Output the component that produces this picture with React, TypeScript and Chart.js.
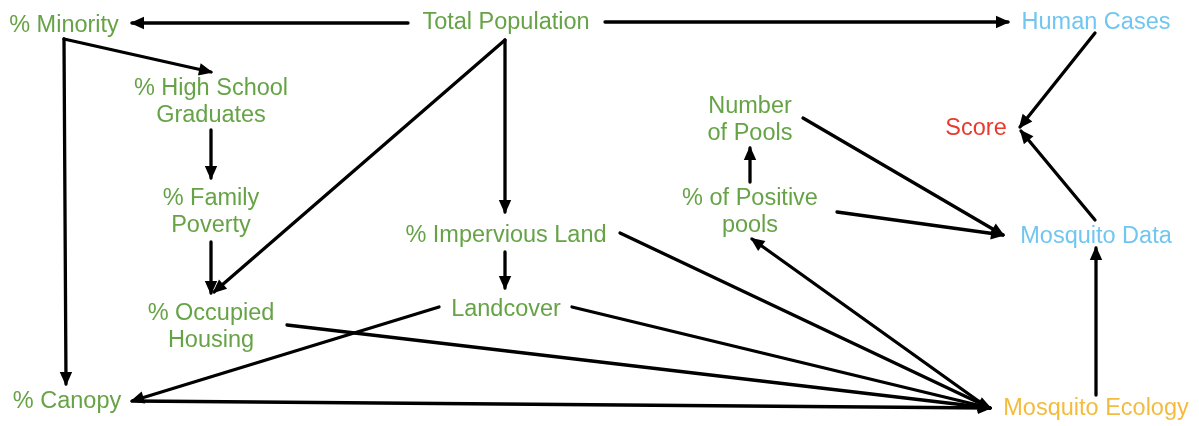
import React, { useEffect, useRef } from "react";
import { Chart, registerables } from "chart.js";

Chart.register(...registerables);

// ---- Nodes (label lines, centre x, first-line baseline y, group) ----
const nodeLabels: string[][] = [
  ["% Minority"],
  ["Total Population"],
  ["Human Cases"],
  ["% High School", "Graduates"],
  ["% Family", "Poverty"],
  ["% Occupied", "Housing"],
  ["% Canopy"],
  ["% Impervious Land"],
  ["Landcover"],
  ["Number", "of Pools"],
  ["% of Positive", "pools"],
  ["Score"],
  ["Mosquito Data"],
  ["Mosquito Ecology"],
];
const nodeX = [64, 506, 1096, 211, 211, 211, 67, 506, 506, 750, 750, 976, 1096, 1096];
const nodeY = [32, 29, 29, 95, 205, 320, 408, 242, 316, 113, 205, 135, 243, 415];
const nodeGroup = ["demo", "demo", "obs", "demo", "demo", "demo", "demo", "demo", "demo", "demo", "demo", "score", "obs", "eco"];

// ---- Edges (polyline points, last point is the arrow tip) ----
const edgeNames = [
  "Total Population → % Minority",
  "Total Population → Human Cases",
  "% Minority → % High School Graduates",
  "% Minority → % Canopy",
  "% High School Graduates → % Family Poverty",
  "% Family Poverty → % Occupied Housing",
  "Total Population → % Occupied Housing",
  "Total Population → % Impervious Land",
  "% Impervious Land → Landcover",
  "% Impervious Land → Mosquito Ecology",
  "Landcover → % Canopy",
  "Landcover → Mosquito Ecology",
  "% Occupied Housing → Mosquito Ecology",
  "% Canopy → Mosquito Ecology",
  "Mosquito Ecology → % of Positive pools",
  "% of Positive pools → Number of Pools",
  "Number of Pools → Mosquito Data",
  "% of Positive pools → Mosquito Data",
  "Mosquito Ecology → Mosquito Data",
  "Human Cases → Score",
  "Mosquito Data → Score",
];
const edgeXs: number[][] = [
  [408, 132],
  [605, 1008],
  [64, 211],
  [64, 66],
  [211, 211],
  [211, 211],
  [505, 214],
  [505, 505],
  [505, 505],
  [620, 990],
  [439, 132],
  [572, 990],
  [287, 990],
  [133, 990],
  [984, 752],
  [750, 750],
  [803, 1003],
  [837, 1003],
  [1096, 1096],
  [1095, 1020],
  [1095, 1021],
];
const edgeYs: number[][] = [
  [23, 23],
  [22, 22],
  [39, 72],
  [39, 384],
  [130, 178],
  [242, 293],
  [40, 292],
  [40, 212],
  [252, 288],
  [233, 408],
  [307, 401],
  [307, 408],
  [325, 408],
  [401, 408],
  [405, 239],
  [182, 148],
  [118, 235],
  [212, 235],
  [395, 248],
  [33, 127],
  [220, 131],
];

const groupColor: Record<string, string> = {
  demo: "#66a346",
  obs: "#70c6f0",
  score: "#ea3a2c",
  eco: "#f5bb3d",
};

const FONT = '23.5px "Liberation Sans", Arial, sans-serif';
const LINE_GAP = 26.5;

const arrowPlugin = {
  id: "arrowHeads",
  afterDatasetsDraw(chart: any) {
    const ctx = chart.ctx;
    ctx.save();
    chart.data.datasets.forEach((ds: any, i: number) => {
      if (ds.label === "nodes") return;
      const meta = chart.getDatasetMeta(i);
      const pts = meta.data;
      if (pts.length < 2) return;
      const p1 = pts[pts.length - 1];
      const p0 = pts[pts.length - 2];
      const ang = Math.atan2(p1.y - p0.y, p1.x - p0.x);
      const L = 14;
      const W = 6.2;
      const tx = p1.x + Math.cos(ang) * 2;
      const ty = p1.y + Math.sin(ang) * 2;
      const bx = tx - Math.cos(ang) * L;
      const by = ty - Math.sin(ang) * L;
      ctx.beginPath();
      ctx.moveTo(tx, ty);
      ctx.lineTo(bx + Math.sin(ang) * W, by - Math.cos(ang) * W);
      ctx.lineTo(bx - Math.sin(ang) * W, by + Math.cos(ang) * W);
      ctx.closePath();
      ctx.fillStyle = "#000";
      ctx.fill();
    });
    ctx.restore();
  },
};

const labelPlugin = {
  id: "nodeLabels",
  afterDraw(chart: any) {
    const ctx = chart.ctx;
    const xs = chart.scales.x;
    const ys = chart.scales.y;
    ctx.save();
    ctx.font = FONT;
    ctx.textAlign = "center";
    ctx.textBaseline = "alphabetic";
    nodeLabels.forEach((lines, i) => {
      ctx.fillStyle = groupColor[nodeGroup[i]];
      const px = xs.getPixelForValue(nodeX[i]);
      lines.forEach((line, j) => {
        const py = ys.getPixelForValue(nodeY[i] + j * LINE_GAP);
        ctx.fillText(line, px, py);
      });
    });
    ctx.restore();
  },
};

export default function App() {
  const ref = useRef<HTMLCanvasElement | null>(null);

  useEffect(() => {
    document.body.style.margin = "0";
    if (!ref.current) return;
    const datasets: any[] = edgeNames.map((name, i) => ({
      type: "line",
      label: name,
      data: edgeXs[i].map((x, k) => ({ x, y: edgeYs[i][k] })),
      showLine: true,
      borderColor: "#000",
      borderWidth: 3.3,
      pointRadius: 0,
      fill: false,
      tension: 0,
      borderCapStyle: "round",
    }));
    datasets.push({
      type: "scatter",
      label: "nodes",
      data: nodeX.map((x, i) => ({ x, y: nodeY[i] })),
      pointRadius: 0,
      showLine: false,
    });
    const chart = new Chart(ref.current, {
      type: "scatter",
      data: { datasets },
      options: {
        animation: false,
        responsive: false,
        maintainAspectRatio: false,
        layout: { padding: 0 },
        plugins: { legend: { display: false }, tooltip: { enabled: false } },
        scales: {
          x: { type: "linear", min: 0, max: 1199, display: false },
          y: { type: "linear", min: 0, max: 426, reverse: true, display: false },
        },
      },
      plugins: [arrowPlugin, labelPlugin],
    } as any);
    return () => chart.destroy();
  }, []);

  return (
    <div style={{ position: "absolute", left: 0, top: 0, width: 1199, height: 426, background: "#fff" }}>
      <canvas ref={ref} width={1199} height={426} style={{ display: "block" }} />
    </div>
  );
}
